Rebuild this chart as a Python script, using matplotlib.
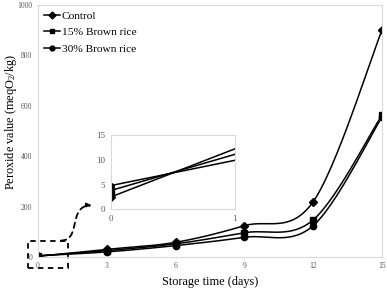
import numpy as np
import matplotlib
matplotlib.use('Agg')
import matplotlib.pyplot as plt
from matplotlib.path import Path
from matplotlib.patches import FancyArrowPatch, Rectangle

plt.rcParams['font.family'] = ['Liberation Serif', 'DejaVu Serif']
plt.rcParams['mathtext.fontset'] = 'custom'
plt.rcParams['mathtext.rm'] = 'Liberation Serif'
plt.rcParams['mathtext.default'] = 'rm'

days = [0, 3, 6, 9, 12, 15]
control = [2.5, 30, 58, 124, 219, 900]
brown15 = [3.8, 25, 52, 96, 147, 563]
brown30 = [4.8, 20, 45, 78, 124, 555]

inset_x = [0, 1]
inset_control = [2.5, 12.2]
inset_brown15 = [3.8, 11.1]
inset_brown30 = [4.8, 9.9]

names = ['Control', '15% Brown rice', '30% Brown rice']
markers = ['D', 's', 'o']


def smooth(x, y, n=30):
	# excel style smoothed line (catmull-rom bezier)
	p = np.column_stack([x, y]).astype(float)
	p = np.vstack([p[0], p, p[-1]])
	out = []
	t = np.linspace(0, 1, n)[:, None]
	for i in range(1, len(p) - 2):
		b0 = p[i]
		b3 = p[i + 1]
		b1 = b0 + (p[i + 1] - p[i - 1]) / 6
		b2 = b3 - (p[i + 2] - p[i]) / 6
		seg = (1 - t) ** 3 * b0 + 3 * (1 - t) ** 2 * t * b1 + 3 * (1 - t) * t ** 2 * b2 + t ** 3 * b3
		out.append(seg)
	out = np.vstack(out)
	return out[:, 0], out[:, 1]


fig = plt.figure(figsize=(3.87, 2.90), dpi=100)
ax = fig.add_axes([0.098, 0.114, 0.889, 0.869])

for vals, m, name in zip([control, brown15, brown30], markers, names):
	sx, sy = smooth(days, vals)
	ax.plot(sx, sy, color='black', lw=1.1)
	ax.plot(days, vals, linestyle='none', marker=m, color='black', ms=4 if m == 'D' else 4.5)
	ax.plot([], [], color='black', lw=1.1, marker=m, ms=3.5, label=name)

ax.set_xlim(0, 15)
ax.set_ylim(0, 1000)
ax.set_xticks(days)
ax.set_yticks([0, 200, 400, 600, 800, 1000])
ax.tick_params(length=0, labelsize=5.5, labelcolor='#595959', pad=4)
for s in ax.spines.values():
	s.set_color('#d9d9d9')
	s.set_linewidth(0.8)
ax.set_xlabel('Storage time (days)', fontsize=8.8, labelpad=4)
ax.set_ylabel('Peroxide value (meqO$_2$/kg)', fontsize=8.8)
ax.yaxis.set_label_coords(-0.054, 0.535)

leg = ax.legend(loc='upper left', frameon=False, fontsize=8.2, handlelength=1.4,
	handletextpad=0.15, labelspacing=0.55, borderaxespad=0.25, borderpad=0.3)

# dashed box around day 0
rect = Rectangle((-0.43, -42), 1.72, 107, fill=False, ls=(0, (3, 2.5)), lw=1.3,
	color='black', clip_on=False)
ax.add_patch(rect)

# curved dashed arrow to the inset
verts = [(1.0, 65), (1.9, 65), (1.3, 200), (2.35, 205)]
arr = FancyArrowPatch(path=Path(verts, [Path.MOVETO, Path.CURVE4, Path.CURVE4, Path.CURVE4]),
	arrowstyle='-|>', mutation_scale=7, color='black', lw=1.3, linestyle=(0, (3, 2.5)),
	transform=ax.transData)
ax.add_patch(arr)

# inset
ins = fig.add_axes([0.286, 0.278, 0.320, 0.256])
for vals, m in zip([inset_control, inset_brown15, inset_brown30], markers):
	ins.plot(inset_x, vals, color='black', lw=1.1)
	ins.plot(inset_x[:1], vals[:1], linestyle='none', marker=m, color='black', ms=4)
ins.set_xlim(0, 1)
ins.set_ylim(0, 15)
ins.set_xticks([0, 1])
ins.set_yticks([0, 5, 10, 15])
ins.tick_params(length=0, labelsize=6.5, labelcolor='#595959', pad=4)
for s in ins.spines.values():
	s.set_color('#d9d9d9')
	s.set_linewidth(0.8)

plt.savefig('out.png', dpi=100)
